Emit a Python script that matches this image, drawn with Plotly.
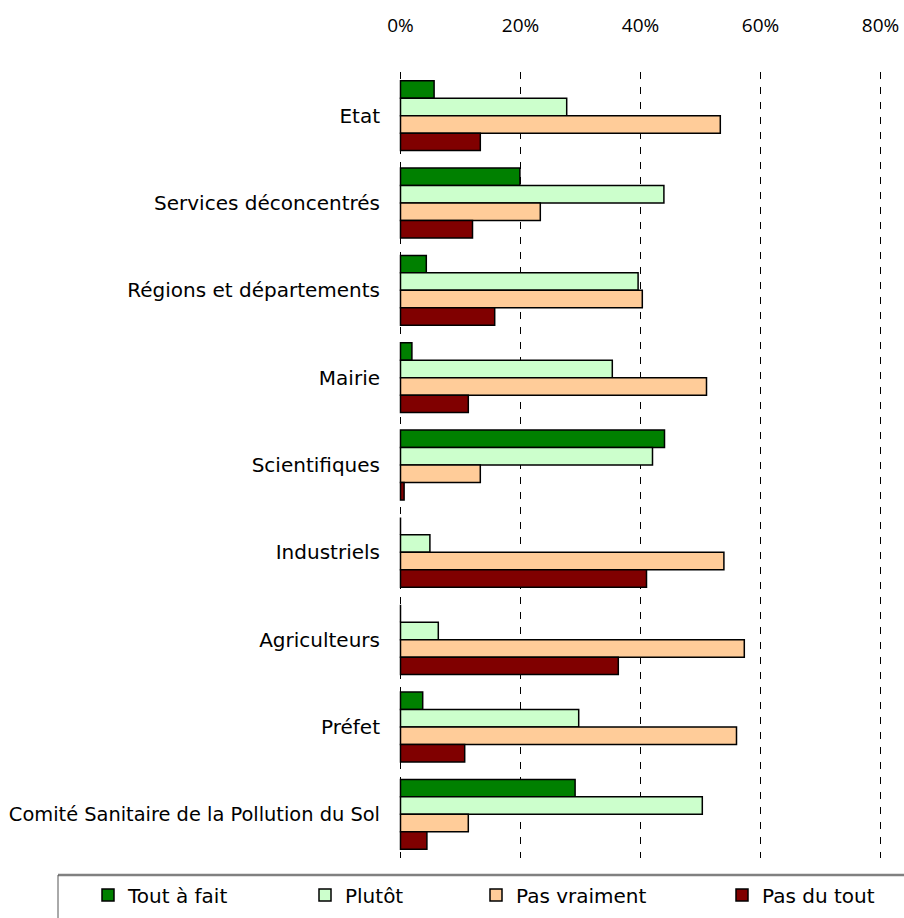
import plotly.graph_objects as go

# Survey: level of trust in each actor (share of respondents, %)
categories = [
    "Etat",
    "Services déconcentrés",
    "Régions et départements",
    "Mairie",
    "Scientifiques",
    "Industriels",
    "Agriculteurs",
    "Préfet",
    "Comité Sanitaire de la Pollution du Sol",
]
tout_a_fait = [5.6, 19.9, 4.3, 1.9, 44.0, 0.0, 0.0, 3.7, 29.1]
plutot = [27.7, 43.9, 39.6, 35.3, 42.0, 4.9, 6.3, 29.7, 50.3]
pas_vraiment = [53.3, 23.3, 40.3, 51.0, 13.3, 53.9, 57.3, 56.0, 11.3]
pas_du_tout = [13.3, 12.0, 15.7, 11.3, 0.6, 41.0, 36.3, 10.7, 4.4]

x_ticks = [0, 20, 40, 60, 80]
x_tick_labels = ["0%", "20%", "40%", "60%", "80%"]

series = [
    ("Tout à fait", tout_a_fait, "#008000", "legend"),
    ("Plutôt", plutot, "#CCFFCC", "legend2"),
    ("Pas vraiment", pas_vraiment, "#FFCC99", "legend3"),
    ("Pas du tout", pas_du_tout, "#800000", "legend4"),
]

W, H = 904, 918
ML, MR, MT, MB = 399, 22, 72, 60
PW, PH = W - ML - MR, H - MT - MB


def px_x(px):
    return (px - ML) / PW


def px_y(py):
    return (H - MB - py) / PH


fig = go.Figure()
for name, vals, color, leg in series:
    fig.add_trace(go.Bar(
        name=name,
        y=categories,
        x=vals,
        orientation="h",
        marker=dict(color=color, line=dict(color="black", width=1.5)),
        legend=leg,
    ))

label_font = dict(family="DejaVu Sans", size=20, color="black")

# the longest category name is set a touch smaller so it stays on the page
y_tick_text = [
    c if len(c) < 30 else f'<span style="font-size:19.4px">{c}</span>'
    for c in categories
]

# one legend entry per box so each can sit at its own place along the bottom
legend_text_start = [130, 347, 518, 764]
legend_y = px_y(895)
legends = {}
for (name, _, _, leg), tx in zip(series, legend_text_start):
    legends[leg] = dict(
        x=px_x(tx - 42), y=legend_y, xanchor="left", yanchor="middle",
        orientation="h", bgcolor="rgba(0,0,0,0)", borderwidth=0,
        font=label_font,
    )

fig.update_layout(
    width=W, height=H,
    margin=dict(l=ML, r=MR, t=MT, b=MB, autoexpand=False),
    paper_bgcolor="white", plot_bgcolor="white",
    barmode="group", bargap=0.2, bargroupgap=0,
    showlegend=True,
    **legends,
    xaxis=dict(
        side="top", range=[-0.25, 80.25],
        tickvals=x_ticks, ticktext=x_tick_labels,
        showgrid=True, gridcolor="black", gridwidth=1, griddash="7px,8px",
        zeroline=False, showline=False, ticks="",
        ticklabelstandoff=35, automargin=False,
        tickfont=dict(family="Open Sans", size=19, color="black"),
        fixedrange=True,
    ),
    yaxis=dict(
        autorange="reversed", showgrid=False, zeroline=False,
        showline=False, ticks="", ticklabelstandoff=18, automargin=False,
        tickvals=categories, ticktext=y_tick_text,
        tickfont=label_font, fixedrange=True,
    ),
    shapes=[
        dict(type="line", xref="paper", yref="paper",
             x0=px_x(58), x1=px_x(910), y0=px_y(875), y1=px_y(875),
             line=dict(color="#808080", width=2.5)),
        dict(type="line", xref="paper", yref="paper",
             x0=px_x(58), x1=px_x(58), y0=px_y(875), y1=px_y(930),
             line=dict(color="#555555", width=1)),
    ],
)

fig.write_html("out.html")
